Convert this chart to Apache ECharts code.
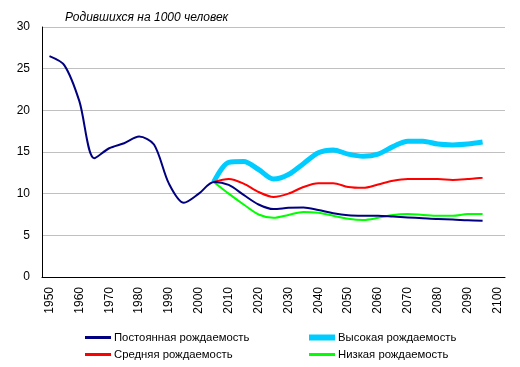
<!DOCTYPE html>
<html><head><meta charset="utf-8">
<script src="https://cdn.jsdelivr.net/npm/echarts@6/dist/echarts.min.js"></script>
<style>html,body{margin:0;padding:0;background:#fff}#c{width:520px;height:367px}</style>
</head><body><div id="c"></div>
<script>
var years = [];
for (var y = 1950; y <= 2100; y += 5) years.push(String(y));
var constant = [26.5,25.4,21.1,14.25,15.45,16.05,16.85,15.9,11.2,8.9,10.0,11.4,11.05,9.85,8.7,8.15,8.3,8.35,8.05,7.65,7.4,7.35,7.35,7.25,7.15,7.05,6.95,6.9,6.8,6.75,null];
var high = [null,null,null,null,null,null,null,null,null,null,null,11.4,13.75,13.85,12.9,11.75,12.3,13.6,14.9,15.25,14.75,14.5,14.75,15.65,16.3,16.3,15.95,15.85,15.95,16.2,null];
var medium = [null,null,null,null,null,null,null,null,null,null,null,11.4,11.75,11.2,10.2,9.6,10.0,10.8,11.25,11.25,10.8,10.7,11.1,11.55,11.75,11.75,11.75,11.65,11.75,11.9,null];
var low = [null,null,null,null,null,null,null,null,null,null,null,11.4,10.0,8.7,7.5,7.1,7.45,7.8,7.7,7.35,7.0,6.85,7.1,7.45,7.55,7.45,7.35,7.35,7.55,7.55,null];
var names = ['Постоянная рождаемость','Высокая рождаемость','Средняя рождаемость','Низкая рождаемость'];
var colors = ['#000080','#00ccff','#ff0000','#00ff00'];
var widths = [2,5,2,2];
var datas = [constant, high, medium, low];
var legendPos = [[80,327],[304,327],[80,344],[304,344]];

var chart = echarts.init(document.getElementById('c'));
var font = 'Liberation Sans, Arial, sans-serif';
chart.setOption({
  animation: false,
  title: {text: 'Родившихся на 1000 человек', left: 60, top: 7,
    textStyle: {fontSize: 12, fontStyle: 'italic', fontWeight: 'normal', color: '#000', fontFamily: font}},
  legend: names.map(function(n, i){
    return {data: [{name: n, icon: 'rect'}], left: legendPos[i][0], top: legendPos[i][1],
      itemWidth: 26, itemHeight: widths[i] + 1, itemGap: 4,
      textStyle: {fontSize: 11.3, color: '#000', fontFamily: font, padding: [0,0,0,-2]}};
  }),
  grid: {left: 42, right: 15, top: 27, bottom: 90, containLabel: false},
  xAxis: {type: 'category', data: years, boundaryGap: true,
    axisLine: {lineStyle: {color: '#000', width: 1}},
    axisTick: {show: false},
    axisLabel: {interval: 1, rotate: 90, fontSize: 12, color: '#000', fontFamily: font, margin: 10},
    splitLine: {show: false}},
  yAxis: {type: 'value', min: 0, max: 30, interval: 5,
    axisLine: {show: true, lineStyle: {color: '#000', width: 1}},
    axisTick: {show: false},
    axisLabel: {fontSize: 12, color: '#000', fontFamily: font, margin: 12},
    splitLine: {lineStyle: {color: '#c0c0c0', width: 1}}},
  series: names.map(function(n, i){
    return {name: n, type: 'line', data: datas[i], smooth: 0.3, showSymbol: false, symbol: 'none',
      connectNulls: false,
      lineStyle: {color: colors[i], width: widths[i]}, itemStyle: {color: colors[i]}, z: i === 0 ? 5 : 3};
  })
});
</script></body></html>
